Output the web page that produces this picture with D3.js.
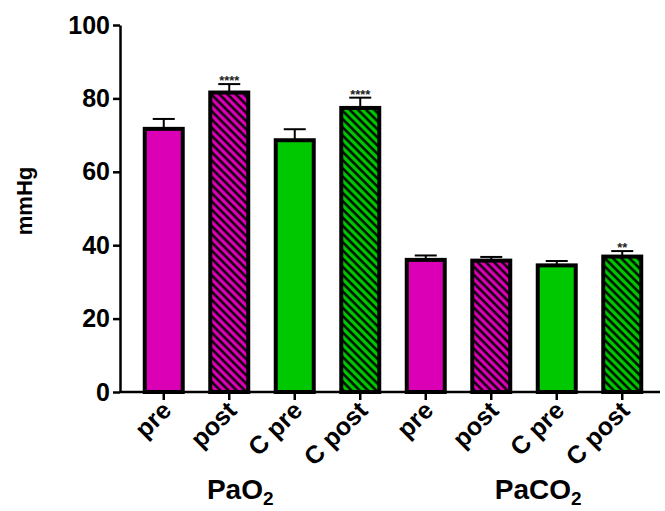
<!DOCTYPE html>
<html>
<head>
<meta charset="utf-8">
<style>
    body { margin: 0; background: #fff; }
    svg { font-family: 'Liberation Sans', Arial, sans-serif; }
</style>
</head>
<body>
<svg width="665" height="511"></svg>
<script src="https://d3js.org/d3.v7.min.js"></script>
<script>
    // values
    const groups = ["PaO", "PaCO"]
    const labels = ["pre", "post", "C pre", "C post", "pre", "post", "C pre", "C post"]
    const means = [71.7, 81.6, 68.6, 77.4, 36.0, 35.8, 34.5, 36.9]
    const sems = [2.7, 2.3, 3.0, 2.8, 1.2, 1.0, 1.2, 1.5]
    const stars = ["", "****", "", "****", "", "", "", "**"]
    const kinds = ["pink", "pinkHatch", "green", "greenHatch", "pink", "pinkHatch", "green", "greenHatch"]
    const yTicks = [0, 20, 40, 60, 80, 100]

    const svg = d3.select("svg")

    let x = d3.scaleBand()
        .domain(d3.range(labels.length))
        .range([131, 655])
        .paddingInner(0.42)
        .paddingOuter(0.21)

    let y = d3.scaleLinear()
        .domain([0, 100])
        .range([392, 25])

    // hatch patterns
    let defs = svg.append("defs")
    const fills = { pink: "#db00b6", green: "#00c800" }
    Object.keys(fills).forEach(k => {
        let p = defs.append("pattern")
            .attr("id", k + "Hatch")
            .attr("patternUnits", "userSpaceOnUse")
            .attr("width", 5.8)
            .attr("height", 5.8)
            .attr("patternTransform", "rotate(-45)")
        p.append("rect").attr("width", 5.8).attr("height", 5.8).attr("fill", fills[k])
        p.append("line")
            .attr("x1", 1.5).attr("y1", 0).attr("x2", 1.5).attr("y2", 5.8)
            .attr("stroke", "#000").attr("stroke-width", 2.4)
    })
    const fillOf = k => fills[k] ? fills[k] : "url(#" + k + ")"

    let data = labels.map((l, i) => ({ i, l, m: means[i], e: sems[i], s: stars[i], k: kinds[i] }))

    // error bars
    svg.selectAll(".err")
        .data(data)
        .join("line")
        .attr("x1", d => x(d.i) + x.bandwidth() / 2)
        .attr("x2", d => x(d.i) + x.bandwidth() / 2)
        .attr("y1", d => y(d.m))
        .attr("y2", d => y(d.m + d.e))
        .attr("stroke", "#000")
        .attr("stroke-width", 2)

    svg.selectAll(".cap")
        .data(data)
        .join("line")
        .attr("x1", d => x(d.i) + x.bandwidth() / 2 - 11)
        .attr("x2", d => x(d.i) + x.bandwidth() / 2 + 11)
        .attr("y1", d => y(d.m + d.e))
        .attr("y2", d => y(d.m + d.e))
        .attr("stroke", "#000")
        .attr("stroke-width", 2)

    // bars
    svg.selectAll(".bar")
        .data(data)
        .join("rect")
        .attr("x", d => x(d.i))
        .attr("width", x.bandwidth())
        .attr("y", d => y(d.m))
        .attr("height", d => y(0) - y(d.m))
        .attr("fill", d => fillOf(d.k))
        .attr("stroke", "#000")
        .attr("stroke-width", 4)

    svg.selectAll(".star")
        .data(data.filter(d => d.s))
        .join("text")
        .attr("x", d => x(d.i) + x.bandwidth() / 2)
        .attr("y", d => y(d.m + d.e) + 1)
        .attr("text-anchor", "middle")
        .attr("font-size", 13)
        .attr("font-weight", "bold")
        .attr("fill", "#222")
        .text(d => d.s)

    // y axis
    let yAxis = svg.append("g")
        .attr("transform", "translate(120,0)")
        .call(d3.axisLeft(y).tickValues(yTicks).tickSize(7).tickPadding(3).tickSizeOuter(0))
    yAxis.select(".domain").attr("stroke-width", 2.5)
    yAxis.selectAll(".tick line").attr("stroke-width", 2.5)
    yAxis.selectAll(".tick text")
        .attr("font-size", 25)
        .attr("font-weight", "bold")
        .attr("font-family", "'Liberation Sans', Arial, sans-serif")
        .attr("fill", "#000")

    // x axis
    let xAxis = svg.append("g")
        .attr("transform", "translate(0,392)")
    xAxis.append("line")
        .attr("x1", 120).attr("x2", 660)
        .attr("stroke", "#000").attr("stroke-width", 2.5)
    let xt = xAxis.selectAll(".xt")
        .data(data)
        .join("g")
        .attr("transform", d => "translate(" + (x(d.i) + x.bandwidth() / 2) + ",0)")
    xt.append("line").attr("y2", 8).attr("stroke", "#000").attr("stroke-width", 2.5)
    xt.append("text")
        .attr("transform", "translate(9,20) rotate(-45)")
        .attr("text-anchor", "end")
        .attr("font-size", 25)
        .attr("font-weight", "bold")
        .text(d => d.l)

    // group labels
    let gl = svg.selectAll(".grp")
        .data(groups)
        .join("text")
        .attr("x", (d, i) => i === 0 ? x(1) + x.bandwidth() / 2 + 11 : x(5) + x.bandwidth() / 2 + 47)
        .attr("y", 499)
        .attr("text-anchor", "middle")
        .attr("font-size", 28)
        .attr("font-weight", "bold")
    gl.append("tspan").text(d => d)
    gl.append("tspan").attr("font-size", 19).attr("dy", 6).text("2")

    // y label
    svg.append("text")
        .attr("transform", "translate(32,201) rotate(-90)")
        .attr("text-anchor", "middle")
        .attr("font-size", 22)
        .attr("font-weight", "bold")
        .text("mmHg")
</script>
</body>
</html>
